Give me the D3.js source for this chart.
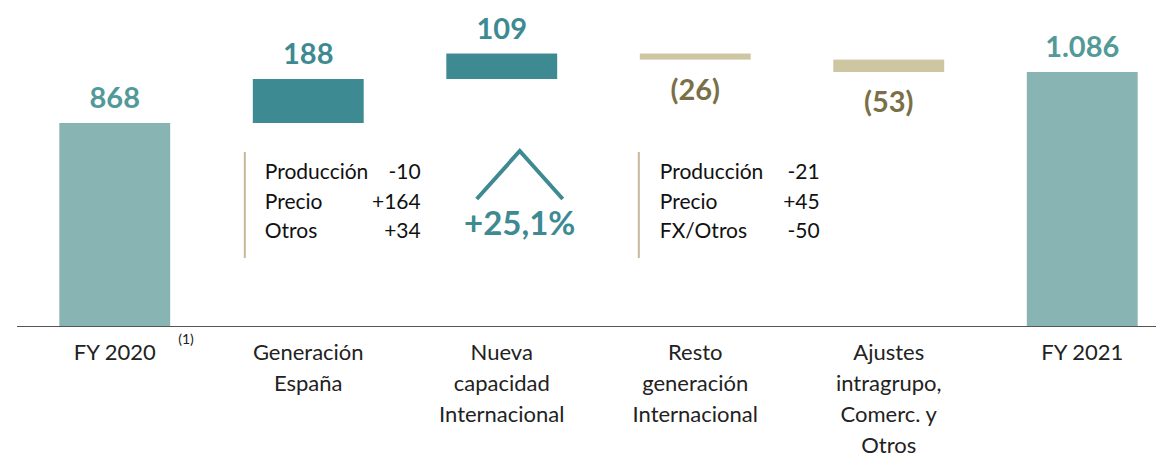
<!DOCTYPE html>
<meta charset="utf-8">

<style>
body { margin: 0; background: #fff; }
text { font-family: Lato, "Open Sans", sans-serif; }
</style>

<svg id="chart" width="1156" height="458"></svg>

<script src="https://cdn.jsdelivr.net/npm/d3@7"></script>

<script>
// waterfall data
var categories = ["FY 2020", "Generación España", "Nueva capacidad Internacional",
                  "Resto generación Internacional", "Ajustes intragrupo, Comerc. y Otros", "FY 2021"]
var categoryLines = [["FY 2020"], ["Generación", "España"], ["Nueva", "capacidad", "Internacional"],
                     ["Resto", "generación", "Internacional"], ["Ajustes", "intragrupo,", "Comerc. y", "Otros"], ["FY 2021"]]
var values = [868, 188, 109, -26, -53, 1086]
var kinds = ["total", "delta", "delta", "delta", "delta", "total"]

// breakdown boxes
var espanaItems = ["Producción", "Precio", "Otros"]
var espanaValues = ["-10", "+164", "+34"]
var restoItems = ["Producción", "Precio", "FX/Otros"]
var restoValues = ["-21", "+45", "-50"]

var colTotal = "#88b4b4", colUp = "#3d8a92", colDown = "#cdc6a1"
var txtTotal = "#529a98", txtUp = "#3d8a92", txtDown = "#7a7048"

var es = d3.formatLocale({decimal: ",", thousands: ".", grouping: [3], currency: ["", "€"]})
var fmtInt = es.format(",d")
var fmtPct = es.format("+.1%")

var svg = d3.select("#chart")
var baseY = 326

// running totals
var bars = []
var run = 0
values.forEach(function (v, i) {
  if (kinds[i] === "total") {
    bars.push({cat: categories[i], v: v, lo: 0, hi: v, kind: "total"})
    run = v
  } else {
    var start = run
    run = run + v
    bars.push({cat: categories[i], v: v, lo: Math.min(start, run), hi: Math.max(start, run), kind: v >= 0 ? "up" : "down"})
  }
})

var x = d3.scaleBand().domain(categories).range([18, 1179]).paddingInner(0.427).paddingOuter(0.2135)
var y = d3.scaleLinear().domain([0, values[values.length - 1]]).range([baseY, 72])

svg.append("g").selectAll("rect")
  .data(bars)
  .enter().append("rect")
    .attr("x", function (d) { return x(d.cat) })
    .attr("width", x.bandwidth())
    .attr("y", function (d) { return y(d.hi) })
    .attr("height", function (d) { return y(d.lo) - y(d.hi) })
    .attr("fill", function (d) { return d.kind === "total" ? colTotal : d.kind === "up" ? colUp : colDown })

// value labels
svg.append("g").selectAll("text")
  .data(bars)
  .enter().append("text")
    .attr("x", function (d) { return x(d.cat) + x.bandwidth() / 2 })
    .attr("y", function (d) { return d.kind === "down" ? y(d.lo) + 40 : y(d.hi) - 15 })
    .attr("text-anchor", "middle")
    .attr("font-size", 29)
    .attr("font-weight", "bold")
    .attr("fill", function (d) { return d.kind === "total" ? txtTotal : d.kind === "up" ? txtUp : txtDown })
    .text(function (d) { return d.v < 0 ? "(" + fmtInt(-d.v) + ")" : fmtInt(d.v) })

// axis line
svg.append("line")
  .attr("x1", 17).attr("x2", 1156)
  .attr("y1", baseY + 0.5).attr("y2", baseY + 0.5)
  .attr("stroke", "#555").attr("stroke-width", 1.2)

// category labels
var cat = svg.append("g").selectAll("text")
  .data(categories)
  .enter().append("text")
    .attr("x", function (d) { return x(d) + x.bandwidth() / 2 })
    .attr("y", 360)
    .attr("text-anchor", "middle")
    .attr("font-size", 22)
    .attr("fill", "#222")
cat.each(function (d, i) {
  var t = d3.select(this)
  categoryLines[i].forEach(function (line, j) {
    t.append("tspan").attr("x", x(d) + x.bandwidth() / 2).attr("dy", j === 0 ? 0 : 31).text(line)
  })
})

svg.append("text")
  .attr("x", x(categories[0]) + x.bandwidth() + 8).attr("y", 344)
  .attr("font-size", 14).attr("fill", "#222")
  .text("(1)")

// breakdown boxes
function breakdown(catName, items, vals, lineDx, textDx, numDx) {
  var x0 = x(catName)
  var g = svg.append("g")
  g.append("line")
    .attr("x1", x0 + lineDx).attr("x2", x0 + lineDx)
    .attr("y1", 152).attr("y2", 258)
    .attr("stroke", "#c8b89a").attr("stroke-width", 2)
  items.forEach(function (it, i) {
    g.append("text")
      .attr("x", x0 + textDx).attr("y", 179 + i * 29.5)
      .attr("font-size", 21).attr("fill", "#111")
      .text(it)
    g.append("text")
      .attr("x", x0 + x.bandwidth() + numDx).attr("y", 179 + i * 29.5)
      .attr("font-size", 21).attr("fill", "#111").attr("text-anchor", "end")
      .text(vals[i])
  })
}
breakdown(categories[1], espanaItems, espanaValues, -8, 12, 57)
breakdown(categories[3], restoItems, restoValues, -1, 20, 69)

// growth chevron
var cx = x(categories[2]) + x.bandwidth() / 2 + 18
svg.append("path")
  .attr("d", d3.line()([[cx - 43, 199], [cx, 151], [cx + 43, 199]]))
  .attr("fill", "none").attr("stroke", colUp).attr("stroke-width", 4)

svg.append("text")
  .attr("x", cx).attr("y", 235)
  .attr("text-anchor", "middle")
  .attr("font-size", 33).attr("font-weight", "bold")
  .attr("fill", colUp)
  .text(fmtPct(values[5] / values[0] - 1))
</script>
